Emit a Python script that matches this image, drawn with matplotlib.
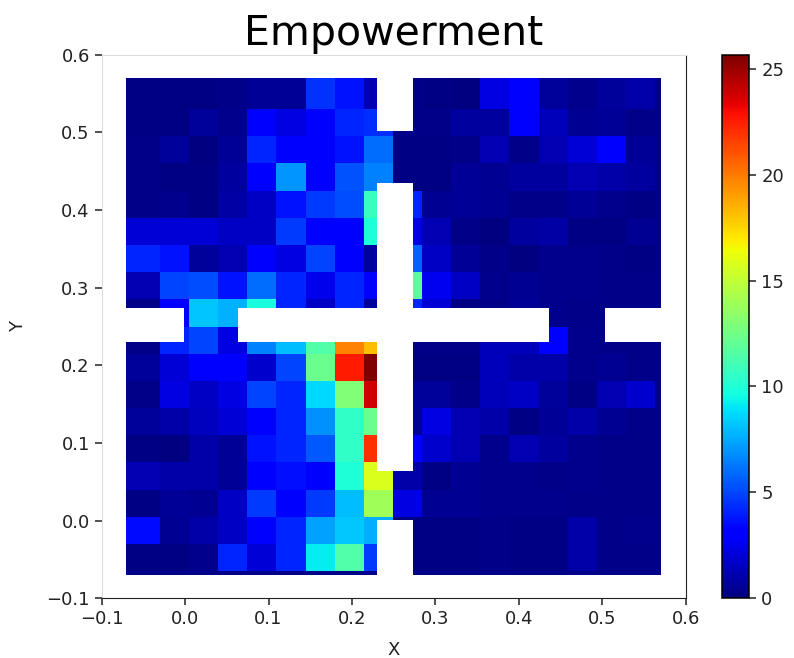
import numpy as np
import matplotlib
matplotlib.use("Agg")
from matplotlib import pyplot as plt
from matplotlib.patches import Rectangle

# empowerment per grid cell, rows listed from top (y=0.57) to bottom (y=-0.07)
# columns from left (x=-0.07) to right (x=0.57)
rows_top_to_bottom = [
    [0.2, 0.2, 0.2, 0.3, 0.6, 0.6, 4.5, 3.7, 1.2, 0.3, 0.15, 0.1, 2.3, 3.0, 0.7, 0.4, 0.7, 1.0, 0.3],
    [0.2, 0.2, 0.7, 0.4, 3.0, 2.3, 3.0, 4.2, 4.4, 0.3, 0.3, 0.8, 0.8, 3.0, 1.4, 0.5, 0.6, 0.3, 0.3],
    [0.3, 0.7, 0.1, 0.6, 4.2, 3.0, 3.0, 3.7, 6.0, 0.2, 0.2, 0.3, 1.2, 0.3, 1.2, 2.0, 3.0, 0.6, 0.3],
    [0.3, 0.2, 0.2, 0.8, 3.0, 7.0, 3.0, 5.3, 6.5, 0.2, 0.2, 0.6, 0.5, 0.8, 0.8, 1.2, 1.0, 0.8, 0.3],
    [0.3, 0.4, 0.2, 0.9, 1.6, 3.7, 4.7, 5.2, 10.8, 4.2, 0.5, 0.6, 0.5, 0.3, 0.3, 0.6, 0.4, 0.2, 0.3],
    [2.0, 2.0, 2.0, 1.6, 1.6, 4.7, 3.0, 3.0, 10.0, 2.3, 1.2, 0.3, 0.1, 0.8, 0.9, 0.2, 0.2, 0.5, 0.3],
    [4.2, 3.7, 0.7, 1.2, 3.0, 2.3, 5.0, 3.0, 0.8, 5.7, 1.6, 0.6, 0.3, 0.1, 0.4, 0.4, 0.3, 0.2, 0.3],
    [1.2, 5.0, 5.2, 3.7, 6.0, 4.2, 2.5, 4.2, 3.0, 11.8, 2.6, 1.6, 0.4, 0.5, 0.4, 0.4, 0.3, 0.3, 0.3],
    [0.3, 3.0, 8.2, 7.7, 9.8, 4.2, 1.6, 4.2, 0.7, 4.2, 2.0, 0.2, 0.3, 0.6, 0.4, 0.3, 0.3, 0.3, 0.3],
    [0.3, 4.2, 5.0, 2.3, 6.5, 8.0, 11.5, 19.8, 18.2, 0.3, 0.3, 0.3, 1.4, 1.4, 3.0, 0.4, 0.3, 0.3, 0.3],
    [0.7, 2.0, 3.0, 3.0, 1.8, 5.0, 12.3, 22.6, 25.66, 0.2, 0.2, 0.2, 1.4, 1.0, 1.0, 0.4, 0.5, 0.3, 0.3],
    [0.3, 2.3, 1.6, 2.3, 5.0, 4.2, 8.7, 13.0, 23.8, 0.7, 0.7, 0.3, 1.4, 1.6, 0.7, 0.2, 1.2, 1.8, 0.3],
    [0.7, 1.0, 1.5, 2.0, 3.0, 4.2, 6.9, 10.5, 12.3, 0.7, 2.3, 1.2, 1.0, 0.2, 0.6, 1.0, 0.5, 0.3, 0.3],
    [0.2, 0.1, 1.0, 0.6, 3.7, 4.2, 5.5, 10.5, 22.0, 3.0, 1.8, 1.2, 0.4, 1.2, 0.8, 0.4, 0.3, 0.3, 0.3],
    [1.2, 1.0, 1.0, 0.6, 3.0, 3.6, 3.0, 10.0, 15.8, 1.0, 0.2, 0.5, 0.4, 0.4, 0.3, 0.4, 0.3, 0.3, 0.3],
    [0.2, 0.6, 0.5, 1.6, 4.7, 3.0, 4.7, 8.0, 14.0, 2.3, 0.5, 0.5, 0.4, 0.4, 0.4, 0.3, 0.3, 0.3, 0.3],
    [3.5, 0.5, 1.0, 1.6, 3.0, 4.2, 7.3, 8.3, 7.6, 0.2, 0.2, 0.2, 0.3, 0.2, 0.2, 1.0, 0.3, 0.4, 0.3],
    [0.2, 0.2, 0.4, 4.2, 2.0, 4.2, 9.2, 11.5, 4.7, 0.2, 0.2, 0.2, 0.3, 0.2, 0.2, 1.0, 0.3, 0.3, 0.3],
    [0.3, 0.3, 0.3, 0.3, 0.3, 0.3, 0.3, 0.3, 0.3, 0.3, 0.3, 0.3, 0.3, 0.3, 0.3, 0.3, 0.3, 0.3, 0.3],
]
emp = np.array(rows_top_to_bottom)[::-1]

# cell edges of the grid
x_edges = np.concatenate([[-0.071], -0.0301 + 0.0349 * np.arange(18), [0.5706]])
y_edges = np.concatenate([[-0.070, -0.0644], -0.0301 + 0.035 * np.arange(17), [0.5704]])

# walls (x0, x1, y0, y1)
walls = [
    (0.2296, 0.2728, 0.5021, 0.58),
    (0.2296, 0.2728, 0.0643, 0.4344),
    (0.2296, 0.2728, -0.08, 0.0008),
    (-0.08, -0.001, 0.2297, 0.2734),
    (0.0637, 0.4362, 0.2297, 0.2734),
    (0.5033, 0.58, 0.2297, 0.2734),
]

vmax = 25.66

fig = plt.figure(figsize=(7.94, 6.58), dpi=100)
ax = fig.add_axes([0.128, 0.0907, 0.7356, 0.8262])
cax = fig.add_axes([0.909, 0.0916, 0.0348, 0.8244])

mesh = ax.pcolormesh(x_edges, y_edges, emp, cmap='jet', vmin=0, vmax=vmax)

for x0, x1, y0, y1 in walls:
    ax.add_patch(Rectangle((x0, y0), x1 - x0, y1 - y0, facecolor='white',
                           edgecolor='none', zorder=3))

ax.set_xlim(-0.1, 0.6)
ax.set_ylim(-0.1, 0.6)
ax.set_xticks([-0.1, 0.0, 0.1, 0.2, 0.3, 0.4, 0.5, 0.6])
ax.set_yticks([-0.1, 0.0, 0.1, 0.2, 0.3, 0.4, 0.5, 0.6])
ax.tick_params(labelsize=13, length=5, width=1.1, colors='#222222')
ax.set_xlabel("X", fontsize=13, labelpad=9, color='#222222')
ax.set_ylabel("Y", fontsize=13, labelpad=14, color='#222222')
ax.set_title("Empowerment", fontsize=29.5, pad=7)

ax.spines['left'].set_color('#dddddd')
ax.spines['top'].set_color('#dddddd')
ax.spines['bottom'].set_color('#222222')
ax.spines['right'].set_color('#222222')

cb = fig.colorbar(mesh, cax=cax, ticks=[0, 5, 10, 15, 20, 25])
cb.ax.tick_params(labelsize=13, length=5, width=1.1, colors='#222222')
cb.outline.set_linewidth(1.1)

plt.savefig("out.png", dpi=100)
